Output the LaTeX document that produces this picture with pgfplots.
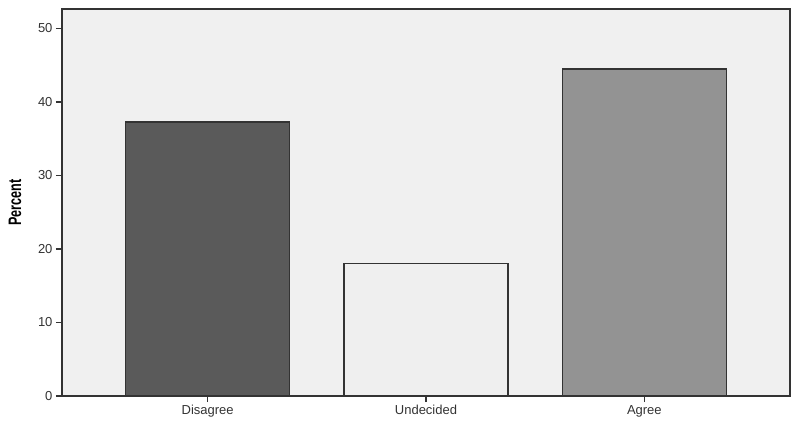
\documentclass[border=0pt]{standalone}
\usepackage{pgfplots}
\pgfplotsset{compat=1.18}
\usepackage{fontspec}
\setmainfont{Liberation Sans}
\newfontfamily\narrowfont[FakeStretch=0.7]{Liberation Sans}

\definecolor{plotbg}{HTML}{F0F0F0}
\definecolor{axisgray}{HTML}{333333}
\definecolor{disagreefill}{HTML}{5A5A5A}
\definecolor{undecidedfill}{HTML}{EFEFEF}
\definecolor{agreefill}{HTML}{939393}

\begin{document}
\begin{tikzpicture}
\begin{axis}[
    scale only axis,
    width=728pt, height=387pt,
    at={(0pt,0pt)}, anchor=south west,
    xmin=-0.667, xmax=2.667,
    ymin=0, ymax=52.65,
    axis background/.style={fill=plotbg},
    axis line style={axisgray, line width=1.2pt},
    ybar, bar width=0.75,
    xtick={0,1,2},
    xticklabels={Disagree,Undecided,Agree},
    ytick={0,10,20,30,40,50},
    tick pos=left,
    tick align=outside,
    major tick length=6pt,
    tick style={axisgray, line width=1.2pt},
    /pgf/number format/assume math mode=true,
    tick label style={font=\fontsize{13}{13}\selectfont, text=axisgray},
    ylabel={Percent},
    ylabel style={at={(axis description cs:-0.0646,0.5)}, anchor=center,
        font=\narrowfont\bfseries\fontsize{18}{18}\selectfont},
]
\addplot[bar shift=0pt, fill=disagreefill, draw=axisgray, line width=1.4pt]
    coordinates {(0,37.3)};
\addplot[bar shift=0pt, fill=undecidedfill, draw=axisgray, line width=1.4pt]
    coordinates {(1,18.05)};
\addplot[bar shift=0pt, fill=agreefill, draw=axisgray, line width=1.4pt]
    coordinates {(2,44.5)};
\end{axis}
\path (-62pt,-24pt) rectangle (735pt,396pt);
\end{tikzpicture}
\end{document}
